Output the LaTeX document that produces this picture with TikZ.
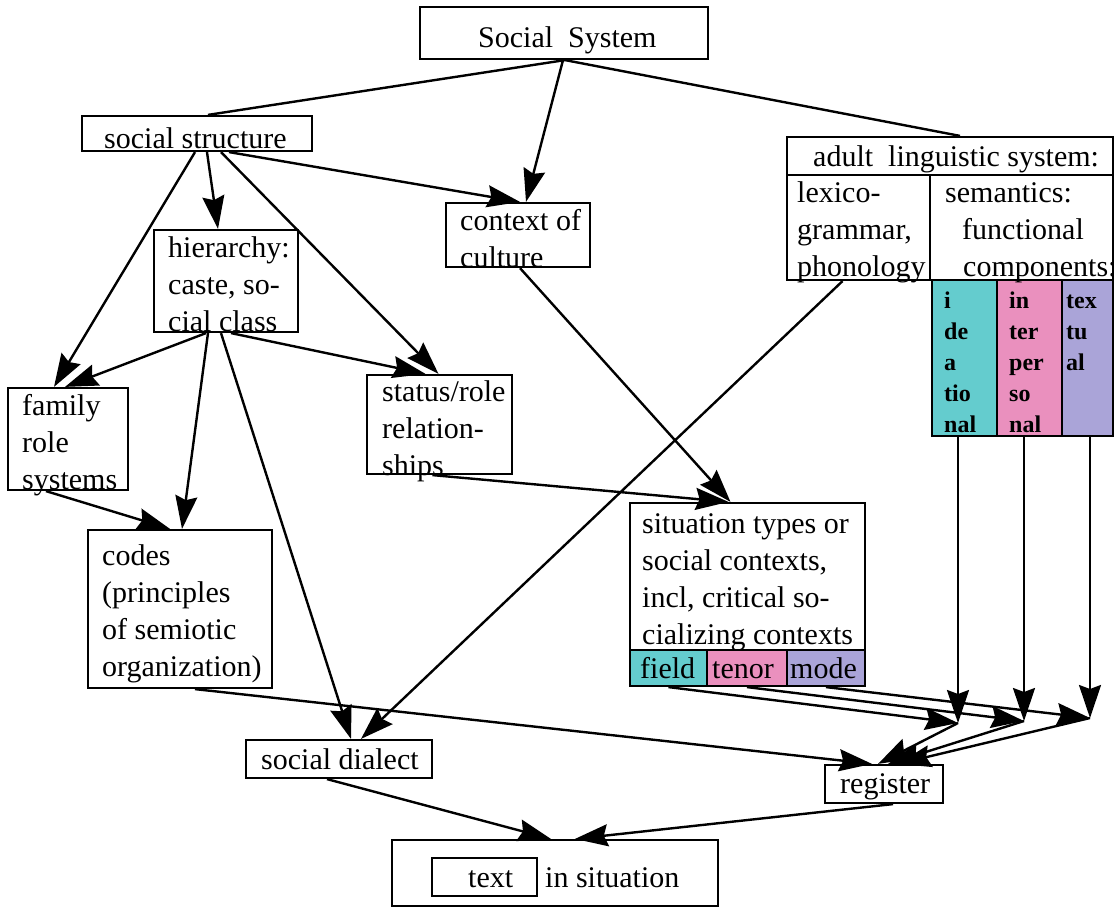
\documentclass[tikz,border=0pt]{standalone}
\usepackage{fontspec}
\setmainfont{Liberation Serif}
\usetikzlibrary{arrows.meta}

\definecolor{idcyan}{RGB}{100,204,206}
\definecolor{inpink}{RGB}{234,144,190}
\definecolor{txlilac}{RGB}{170,164,216}

\newcommand{\bigfont}{\fontsize{30}{37}\selectfont}
\newcommand{\colfont}{\fontsize{24}{31}\selectfont\bfseries}

\tikzset{
  box/.style={draw, line width=2.2pt, inner sep=0pt},
  txt/.style={anchor=north west, inner sep=0pt, align=left, font=\bigfont},
  ctxt/.style={anchor=north west, inner sep=0pt, align=left, font=\colfont},
  link/.style={line width=2.4pt},
  arr/.style={link, -{Stealth[length=33pt,width=22pt,inset=4pt]}},
}

\begin{document}
\begin{tikzpicture}[x=1pt, y=-1pt]
\useasboundingbox (0,0) rectangle (1118,909);

% ---- boxes ----
\node[box, minimum width=288pt, minimum height=52pt] (ss) at (564,33) {};
\node[box, minimum width=230pt, minimum height=35pt] (st) at (197,133.5) {};
\node[box, minimum width=144pt, minimum height=64pt] (cc) at (518,235) {};
\node[box, minimum width=144pt, minimum height=102pt] (hi) at (226,281) {};
\node[box, minimum width=326pt, minimum height=38pt] (al) at (950,156) {};
\node[box, minimum width=143pt, minimum height=105pt] (lx) at (858.5,227.5) {};
\node[box, minimum width=183pt, minimum height=105pt] (sm) at (1021.5,227.5) {};
\node[box, fill=idcyan, minimum width=65pt, minimum height=156pt] (ide) at (964.5,358) {};
\node[box, fill=inpink, minimum width=65pt, minimum height=156pt] (ipe) at (1029.5,358) {};
\node[box, fill=txlilac, minimum width=51pt, minimum height=156pt] (tex) at (1087.5,358) {};
\node[box, minimum width=120pt, minimum height=102pt] (fr) at (68,439) {};
\node[box, minimum width=145pt, minimum height=99pt] (sr) at (439.5,424.5) {};
\node[box, minimum width=184pt, minimum height=158pt] (co) at (180,609) {};
\node[box, minimum width=235pt, minimum height=147pt] (si) at (747.5,576.5) {};
\node[box, fill=idcyan, minimum width=77pt, minimum height=36pt] (fi) at (668.5,668) {};
\node[box, fill=inpink, minimum width=80pt, minimum height=36pt] (te) at (747,668) {};
\node[box, fill=txlilac, minimum width=78pt, minimum height=36pt] (mo) at (826,668) {};
\node[box, minimum width=186pt, minimum height=38pt] (sd) at (339,759) {};
\node[box, minimum width=118pt, minimum height=38pt] (rg) at (884,784) {};
\node[box, minimum width=326pt, minimum height=66pt] (ts) at (555,873) {};
\node[box, minimum width=105pt, minimum height=38pt] (ti) at (484.5,877) {};

% ---- labels (y = baseline - strut height) ----
\node[txt] (ssT) at (478,21.1) {\strut Social\ \ System};
\node[txt] (stT) at (104,122.1) {\strut social structure};
\node[txt] (ccT) at (460,204.1) {\strut context of\\culture};
\node[txt] (hiT) at (168,231.1) {\strut hierarchy:\\caste, so-\\cial class};
\node[txt] (alT) at (813,140.1) {\strut adult\ \ linguistic system:};
\node[txt] (lxT) at (797,176.1) {\strut lexico-\\grammar,\\phonology};
\node[txt] (smT) at (945,176.1) {\strut semantics:\\\hspace*{17pt}functional\\\hspace*{18pt}components:};
\node[ctxt] (ideT) at (944,286.3) {\strut i\\de\\a\\tio\\nal};
\node[ctxt] (ipeT) at (1009,286.3) {\strut in\\ter\\per\\so\\nal};
\node[ctxt] (texT) at (1066,286.3) {\strut tex\\tu\\al};
\node[txt] (frT) at (22,389.1) {\strut family\\role\\systems};
\node[txt] (srT) at (382,375.1) {\strut status/role\\relation-\\ships};
\node[txt] (coT) at (102,539.1) {\strut codes\\(principles\\of semiotic\\organization)};
\node[txt] (siT) at (642,507.1) {\strut situation types or\\social contexts,\\incl, critical so-\\cializing contexts};
\node[txt] (fiT) at (640,652.1) {\strut field};
\node[txt] (teT) at (712,652.1) {\strut tenor};
\node[txt] (moT) at (790,652.1) {\strut mode};
\node[txt] (sdT) at (261,743.1) {\strut social dialect};
\node[txt] (rgT) at (840,767.1) {\strut register};
\node[txt] (tiT) at (468,861.1) {\strut text};
\node[txt] (isT) at (545,861.1) {\strut in situation};

% ---- meeting points above the register ----
\coordinate (p1) at (958,723);
\coordinate (p2) at (1024,721);
\coordinate (p3) at (1090,718);

% ---- connectors ----
\draw[link] ([xshift=1pt]ss.south) -- ([xshift=11pt]st.north);
\draw[arr]  ([xshift=-1pt]ss.south) -- ([xshift=8pt]cc.north);
\draw[link] ([xshift=1pt]ss.south) -- ([xshift=10pt]al.north);

\draw[arr] ([xshift=-2pt]st.south) -- ([xshift=-14pt]fr.north);
\draw[arr] ([xshift=10pt]st.south) -- ([xshift=-8pt]hi.north);
\draw[arr] ([xshift=24pt]st.south) -- ([xshift=-1pt]sr.north);
\draw[arr] ([xshift=32pt]st.south) -- ([xshift=2pt]cc.north);

\draw[arr] ([xshift=-20pt]hi.south) -- ([xshift=-3pt]fr.north);
\draw[arr] ([xshift=-18pt]hi.south) -- ([xshift=2pt]co.north);
\draw[arr] ([xshift=-5pt]hi.south) -- ([xshift=12pt]sd.north);
\draw[arr] ([xshift=5pt]hi.south) -- ([xshift=-14pt]sr.north);

\draw[arr] ([xshift=-22pt]fr.south) -- ([xshift=-10pt]co.north);
\draw[arr] ([xshift=2pt]cc.south) -- ([xshift=-17pt]si.north);
\draw[arr] ([xshift=-7pt]sr.south) -- ([xshift=-19pt]si.north);
\draw[arr] ([xshift=-16pt]lx.south) -- ([xshift=22pt]sd.north);
\draw[arr] ([xshift=15pt]co.south) -- ([xshift=-12pt]rg.north);

\draw[arr] ([xshift=-6.5pt]ide.south) -- (p1);
\draw[arr] ([xshift=-5.5pt]ipe.south) -- (p2);
\draw[arr] ([xshift=2.5pt]tex.south) -- (p3);
\draw[arr] (fi.south) -- (p1);
\draw[arr] (te.south) -- (p2);
\draw[arr] (mo.south) -- (p3);
\draw[arr] (p1) -- ([xshift=-6pt]rg.north);
\draw[arr] (p2) -- ([xshift=4pt]rg.north);
\draw[arr] (p3) -- ([xshift=14pt]rg.north);

\draw[arr] ([xshift=-12pt]sd.south) -- ([xshift=-4pt]ts.north);
\draw[arr] ([xshift=9pt]rg.south) -- ([xshift=20pt]ts.north);
\end{tikzpicture}
\end{document}
